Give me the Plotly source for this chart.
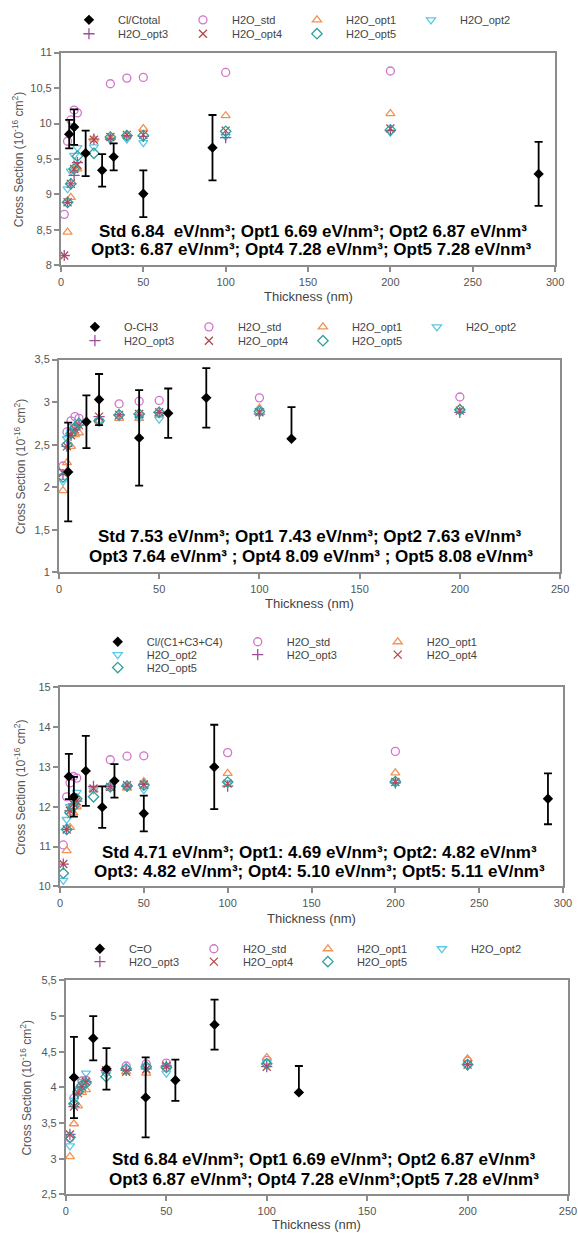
import plotly.graph_objects as go

W, H = 578, 1236
ML, MR = 55, 5
PW = W - ML - MR

# ---------------- data ----------------
x_h2o = [2, 4, 6, 8, 10, 20, 30, 40, 50, 100, 200]

# Panel 1 : Cl/Ctotal
p1_exp_x = [5, 8, 15, 25, 32, 50, 92, 290]
p1_exp_y = [9.85, 9.95, 9.58, 9.34, 9.53, 9.01, 9.66, 9.29]
p1_exp_err = [0.2, 0.25, 0.32, 0.23, 0.19, 0.33, 0.46, 0.45]
p1_std = [8.72, 9.75, 10.05, 10.19, 10.15, None, 10.56, 10.64, 10.65, 10.72, 10.74]
p1_opt1 = [None, 8.47, 8.96, 9.35, 9.36, 9.78, 9.80, 9.84, 9.93, 10.11, 10.14]
p1_opt2 = [None, 9.08, 9.33, 9.55, 9.66, 9.67, 9.77, 9.78, 9.73, 9.82, 9.88]
p1_opt3 = [8.14, 8.89, 9.15, 9.27, 9.45, 9.78, 9.78, 9.83, 9.82, 9.80, 9.90]
p1_opt4 = [8.14, 8.89, 9.15, 9.36, 9.42, 9.77, 9.81, 9.84, 9.84, 9.90, 9.93]
p1_opt5 = [None, 8.89, 9.15, 9.36, 9.54, 9.58, 9.81, 9.83, 9.83, 9.89, 9.91]

# Panel 2 : O-CH3
p2_exp_x = [4.6, 13.7, 20, 40, 54.5, 73.5, 116]
p2_exp_y = [2.18, 2.77, 3.03, 2.58, 2.87, 3.05, 2.57]
p2_exp_err = [0.58, 0.31, 0.3, 0.56, 0.29, 0.35, 0.37]
p2_exp_errm = [0.58, 0.31, 0.3, 0.56, 0.29, 0.35, 0.0]
p2_std = [2.25, 2.65, 2.78, 2.83, 2.81, None, 2.98, 3.01, 3.02, 3.05, 3.06]
p2_opt1 = [1.96, 2.29, 2.48, 2.62, 2.64, 2.78, 2.81, 2.81, 2.86, 2.93, 2.93]
p2_opt2 = [2.07, 2.57, 2.65, 2.70, 2.76, 2.78, 2.83, 2.81, 2.80, 2.90, 2.90]
p2_opt3 = [2.15, 2.48, 2.61, 2.68, 2.73, 2.83, 2.85, 2.86, 2.88, 2.86, 2.88]
p2_opt4 = [2.17, 2.48, 2.61, 2.68, 2.73, 2.83, 2.85, 2.86, 2.88, 2.88, 2.90]
p2_opt5 = [2.12, 2.50, 2.63, 2.70, 2.75, 2.78, 2.85, 2.86, 2.88, 2.89, 2.91]

# Panel 3 : Cl/(C1+C3+C4)
p3_exp_x = [5.3, 8.3, 15.4, 25.2, 32.5, 50, 92, 291]
p3_exp_y = [12.76, 12.25, 12.9, 11.99, 12.65, 11.83, 13.0, 12.2]
p3_exp_err = [0.57, 0.5, 0.88, 0.52, 0.42, 0.45, 1.06, 0.64]
p3_std = [11.04, 12.25, 12.6, 12.76, 12.72, None, 13.18, 13.27, 13.28, 13.36, 13.39]
p3_opt1 = [None, 10.9, 11.48, 11.85, 12.0, 12.43, 12.47, 12.47, 12.63, 12.84, 12.85]
p3_opt2 = [10.15, 11.68, 12.0, 12.18, 12.36, 12.43, 12.51, 12.52, 12.43, 12.6, 12.63]
p3_opt3 = [10.56, 11.43, 11.9, 12.07, 12.14, 12.51, 12.51, 12.52, 12.56, 12.52, 12.6]
p3_opt4 = [10.56, 11.43, 11.9, 12.07, 12.14, 12.46, 12.5, 12.54, 12.56, 12.58, 12.62]
p3_opt5 = [10.33, 11.43, 11.85, 12.0, 12.2, 12.25, 12.5, 12.52, 12.54, 12.62, 12.63]

# Panel 4 : C=O
p4_exp_x = [4, 13.6, 20.2, 39.7, 54.5, 74, 116]
p4_exp_y = [4.14, 4.69, 4.26, 3.86, 4.1, 4.88, 3.93]
p4_exp_err = [0.57, 0.31, 0.29, 0.56, 0.29, 0.35, 0.37]
p4_exp_errm = [0.57, 0.31, 0.29, 0.56, 0.29, 0.35, 0.0]
p4_std = [3.29, 3.85, 3.96, 4.09, 4.10, None, 4.30, 4.33, 4.34, 4.38, 4.37]
p4_opt1 = [3.03, 3.49, 3.74, 3.93, 3.97, 4.25, 4.22, 4.20, 4.29, 4.42, 4.40]
p4_opt2 = [3.18, 3.82, 3.98, 4.08, 4.20, 4.19, 4.26, 4.29, 4.20, 4.35, 4.30]
p4_opt3 = [3.34, 3.73, 3.92, 4.01, 4.08, 4.24, 4.24, 4.26, 4.30, 4.29, 4.32]
p4_opt4 = [3.34, 3.73, 3.92, 4.01, 4.08, 4.24, 4.22, 4.26, 4.30, 4.29, 4.32]
p4_opt5 = [3.30, 3.77, 3.94, 4.03, 4.06, 4.15, 4.26, 4.29, 4.28, 4.33, 4.32]

h2o_names = ["H2O_std", "H2O_opt1", "H2O_opt2", "H2O_opt3", "H2O_opt4", "H2O_opt5"]
exp_names = ["Cl/Ctotal", "O-CH3", "Cl/(C1+C3+C4)", "C=O"]

x_ranges = [[0, 300], [0, 250], [0, 300], [0, 250]]
y_ranges = [[8, 11], [1, 3.5], [10, 15], [2.5, 5.5]]
y_dticks = [0.5, 0.5, 1, 0.5]

notes = [
    ["Std 6.84  eV/nm³; Opt1 6.69 eV/nm³; Opt2 6.87 eV/nm³",
     "Opt3: 6.87 eV/nm³; Opt4 7.28 eV/nm³; Opt5 7.28 eV/nm³"],
    ["Std 7.53 eV/nm³; Opt1 7.43 eV/nm³; Opt2 7.63 eV/nm³",
     "Opt3 7.64 eV/nm³ ; Opt4 8.09 eV/nm³ ; Opt5 8.08 eV/nm³"],
    ["Std 4.71 eV/nm³; Opt1: 4.69 eV/nm³; Opt2: 4.82 eV/nm³",
     "Opt3: 4.82 eV/nm³; Opt4: 5.10 eV/nm³; Opt5: 5.11 eV/nm³"],
    ["Std 6.84 eV/nm³; Opt1 6.69 eV/nm³; Opt2 6.87 eV/nm³",
     "Opt3 6.87 eV/nm³; Opt4 7.28 eV/nm³;Opt5 7.28 eV/nm³"],
]

# ---------------- styling / layout (pixels) ----------------
styles = {
    "H2O_std": dict(symbol="circle-open", color="#d174cc"),
    "H2O_opt1": dict(symbol="triangle-up-open", color="#f39255"),
    "H2O_opt2": dict(symbol="triangle-down-open", color="#5ec7e3"),
    "H2O_opt3": dict(symbol="cross-thin-open", color="#9b4f9b"),
    "H2O_opt4": dict(symbol="x-thin-open", color="#b34848"),
    "H2O_opt5": dict(symbol="diamond-open", color="#2f9f9b"),
}
# plot boxes in pixels: (x0, x1, y0, y1) with y measured from the top
boxes = [(61, 559, 47, 262), (59, 564, 357, 572), (60, 567, 688, 889), (66, 572, 984, 1200)]
note_lines = [((315, 228), (313, 246)), ((312, 536), (313, 556)),
              ((322, 855), (322, 874)), ((326, 1165), (326, 1185))]
xtitle_y = [293, 603, 921, 1230]
ytitle_x = [18, 20, 20, 26]
ITEMW = 48
# legend rows: (y_px, x_px_of_first_marker, entry spacing, [entries])
legend_rows = [
    [(14, 89, 114, ["Cl/Ctotal", "H2O_std", "H2O_opt1", "H2O_opt2"]),
     (28, 89, 114, ["H2O_opt3", "H2O_opt4", "H2O_opt5"])],
    [(324, 95, 114, ["O-CH3", "H2O_std", "H2O_opt1", "H2O_opt2"]),
     (338, 95, 114, ["H2O_opt3", "H2O_opt4", "H2O_opt5"])],
    [(642, 118, 140, ["Cl/(C1+C3+C4)", "H2O_std", "H2O_opt1"]),
     (655, 118, 140, ["H2O_opt2", "H2O_opt3", "H2O_opt4"]),
     (668, 118, 140, ["H2O_opt5"])],
    [(952, 100, 114, ["C=O", "H2O_std", "H2O_opt1", "H2O_opt2"]),
     (965, 100, 114, ["H2O_opt3", "H2O_opt4", "H2O_opt5"])],
]


def px_x(p):
    return (p - ML) / PW


def px_y(p):
    return 1 - p / H


panels = [
    (p1_exp_x, p1_exp_y, p1_exp_err, p1_exp_err, [p1_std, p1_opt1, p1_opt2, p1_opt3, p1_opt4, p1_opt5]),
    (p2_exp_x, p2_exp_y, p2_exp_err, p2_exp_errm, [p2_std, p2_opt1, p2_opt2, p2_opt3, p2_opt4, p2_opt5]),
    (p3_exp_x, p3_exp_y, p3_exp_err, p3_exp_err, [p3_std, p3_opt1, p3_opt2, p3_opt3, p3_opt4, p3_opt5]),
    (p4_exp_x, p4_exp_y, p4_exp_err, p4_exp_errm, [p4_std, p4_opt1, p4_opt2, p4_opt3, p4_opt4, p4_opt5]),
]

FONT = "Liberation Sans, Arial, sans-serif"
fig = go.Figure()
layout = dict(
    width=W, height=H, margin=dict(l=ML, r=MR, t=0, b=0),
    paper_bgcolor="white", plot_bgcolor="white",
    separators=", ",
    font=dict(family=FONT, color="#444", size=11),
    annotations=[],
)

legend_counter = 0
for i, (ex, ey, eerr, eerrm, h2o) in enumerate(panels):
    xa = "x" if i == 0 else f"x{i+1}"
    ya = "y" if i == 0 else f"y{i+1}"
    name_leg = {}
    order = {}
    for (ly, lx0, sp, names) in legend_rows[i]:
        legend_counter += 1
        lid = "legend" if legend_counter == 1 else f"legend{legend_counter}"
        for k, n in enumerate(names):
            name_leg[n] = lid
            order[n] = k
        layout[lid] = dict(
            orientation="h", x=px_x(lx0 - (ITEMW / 2 + 5)), xanchor="left",
            y=px_y(ly), yanchor="middle", entrywidth=sp - (ITEMW + 10) - 5, entrywidthmode="pixels",
            bgcolor="rgba(0,0,0,0)", font=dict(size=11, color="#444", family=FONT),
            itemwidth=ITEMW, tracegroupgap=0,
        )
    for n, yv in zip(h2o_names, h2o):
        st = styles[n]
        fig.add_trace(go.Scatter(
            x=x_h2o, y=yv, mode="markers", name=n, xaxis=xa, yaxis=ya,
            legend=name_leg[n], legendrank=100 + order[n],
            marker=dict(symbol=st["symbol"], size=8, color=st["color"],
                        line=dict(width=1.3, color=st["color"])),
        ))
    fig.add_trace(go.Scatter(
        x=ex, y=ey, mode="markers", name=exp_names[i], xaxis=xa, yaxis=ya,
        legend=name_leg[exp_names[i]], legendrank=100 + order[exp_names[i]],
        marker=dict(symbol="diamond", size=8, color="black"),
        error_y=dict(type="data", array=eerr, arrayminus=eerrm, symmetric=False,
                     color="black", thickness=1.8, width=4),
    ))
    bx0, bx1, by0, by1 = boxes[i]
    ax_common = dict(showline=True, mirror=True, linecolor="#8c8c8c", linewidth=2,
                     ticks="outside", ticklen=5, tickcolor="#8c8c8c", tickwidth=1.5,
                     showgrid=False, zeroline=False,
                     tickfont=dict(size=11, color="#555", family=FONT))
    layout["xaxis" if i == 0 else f"xaxis{i+1}"] = dict(
        domain=[px_x(bx0), px_x(bx1)], range=x_ranges[i], dtick=50, anchor=ya, **ax_common)
    layout["yaxis" if i == 0 else f"yaxis{i+1}"] = dict(
        domain=[px_y(by1), px_y(by0)], range=y_ranges[i], dtick=y_dticks[i], anchor=xa, **ax_common)
    for txt, (nx, ny) in zip(notes[i], note_lines[i]):
        layout["annotations"].append(dict(
            text=txt, x=px_x(nx), y=px_y(ny), xref="paper", yref="paper",
            xanchor="center", yanchor="middle", showarrow=False, align="center",
            font=dict(size=17, color="black", family=FONT, weight="bold"),
        ))
    layout["annotations"].append(dict(
        text="Thickness (nm)", x=px_x((bx0 + bx1) / 2), y=px_y(xtitle_y[i]),
        xref="paper", yref="paper", xanchor="center", yanchor="middle", showarrow=False,
        font=dict(size=13, color="#444", family=FONT),
    ))
    layout["annotations"].append(dict(
        text="Cross Section (10<sup>-16</sup> cm<sup>2</sup>)", textangle=-90,
        x=px_x(ytitle_x[i]), y=px_y((by0 + by1) / 2), xref="paper", yref="paper",
        xanchor="center", yanchor="middle", showarrow=False,
        font=dict(size=12, color="#555", family=FONT),
    ))

fig.update_layout(**layout)
fig.write_html("out.html", config={"displayModeBar": False},
               post_script="document.body.style.margin='0px';")
